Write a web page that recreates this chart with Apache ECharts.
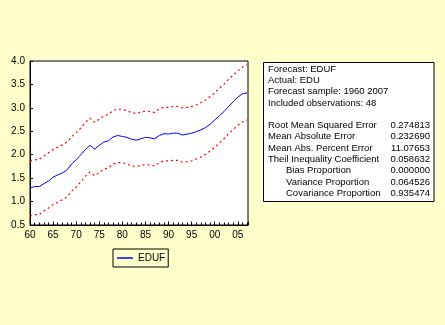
<!DOCTYPE html>
<html><head><meta charset="utf-8">
<script src="https://cdn.jsdelivr.net/npm/echarts@6/dist/echarts.min.js"></script>
<style>html,body{margin:0;padding:0;background:#FFFFCC;}#c{width:445px;height:325px;}</style>
</head><body><div id="c"></div>
<script>
const years = [1960,1961,1962,1963,1964,1965,1966,1967,1968,1969,1970,1971,1972,1973,1974,1975,1976,1977,1978,1979,1980,1981,1982,1983,1984,1985,1986,1987,1988,1989,1990,1991,1992,1993,1994,1995,1996,1997,1998,1999,2000,2001,2002,2003,2004,2005,2006,2007];
const eduf = [1.29,1.32,1.32,1.38,1.44,1.52,1.57,1.61,1.67,1.80,1.89,2.00,2.11,2.20,2.12,2.20,2.27,2.30,2.38,2.41,2.39,2.37,2.33,2.31,2.34,2.37,2.36,2.34,2.41,2.45,2.44,2.46,2.46,2.42,2.44,2.46,2.49,2.53,2.58,2.65,2.74,2.83,2.92,3.03,3.13,3.23,3.30,3.32];
const upper = [1.87,1.89,1.90,1.97,2.04,2.11,2.16,2.21,2.27,2.38,2.47,2.57,2.69,2.78,2.69,2.76,2.83,2.86,2.95,2.97,2.97,2.94,2.90,2.88,2.91,2.93,2.92,2.90,2.98,3.01,3.01,3.03,3.03,3.00,3.01,3.03,3.06,3.11,3.17,3.24,3.32,3.42,3.50,3.61,3.70,3.79,3.87,3.92];
const lower = [0.69,0.72,0.72,0.80,0.86,0.94,0.98,1.04,1.10,1.22,1.31,1.42,1.54,1.63,1.55,1.62,1.69,1.72,1.80,1.83,1.83,1.80,1.76,1.75,1.77,1.79,1.78,1.76,1.83,1.87,1.87,1.88,1.88,1.84,1.85,1.87,1.91,1.95,2.01,2.08,2.16,2.25,2.34,2.45,2.54,2.63,2.70,2.74];
const statLabels = ["Root Mean Squared Error","Mean Absolute Error","Mean Abs. Percent Error","Theil Inequality Coefficient","Bias Proportion","Variance Proportion","Covariance Proportion"];
const statValues = ["0.274813","0.232690","11.07653","0.058632","0.000000","0.064526","0.935474"];
const headerLines = ["Forecast: EDUF","Actual: EDU","Forecast sample: 1960 2007","Included observations: 48"];

const pair = arr => years.map((y,i)=>[y,arr[i]]);
const FONT = 'Liberation Sans';
const TF = '9.5px ' + FONT;
const graphics = [{type:'rect',shape:{x:263.5,y:62.5,width:170.5,height:139},style:{fill:'#fff',stroke:'#000',lineWidth:1}}];
const rowY0 = 69, rowStep = 11.3;
headerLines.forEach((t,i)=>graphics.push({type:'text',x:268,y:rowY0+i*rowStep,style:{text:t,fill:'#000',font:TF,verticalAlign:'middle'}}));
statLabels.forEach((t,i)=>{
  const y = rowY0+(i+5)*rowStep;
  graphics.push({type:'text',x:(i>=4?286:268),y:y,style:{text:t,fill:'#000',font:TF,verticalAlign:'middle'}});
  graphics.push({type:'text',x:430,y:y,style:{text:statValues[i],fill:'#000',font:TF,verticalAlign:'middle',align:'right'}});
});

const chart = echarts.init(document.getElementById('c'));
chart.setOption({
  backgroundColor:'#FFFFCC',
  animation:false,
  grid:{left:30,top:61,width:218,height:164,show:true,backgroundColor:'#fff',borderColor:'#000',borderWidth:1},
  xAxis:{type:'value',min:1960,max:2007.2,interval:5,
    axisLine:{lineStyle:{color:'#000'}},
    axisTick:{inside:true,length:3.5,lineStyle:{color:'#000'}},
    minorTick:{show:true,splitNumber:5,length:2.5,lineStyle:{color:'#000'}},
    splitLine:{show:false},
    axisLabel:{color:'#000',fontFamily:FONT,fontSize:10,margin:5,showMaxLabel:false,
      formatter:v=> (v%5===0)? String(v%100).padStart(2,'0') : ''}},
  yAxis:{type:'value',min:0.5,max:4.0,interval:0.5,
    axisLine:{show:true,lineStyle:{color:'#000'}},
    axisTick:{show:true,inside:true,length:3,lineStyle:{color:'#000'}},
    splitLine:{show:false},
    axisLabel:{color:'#000',fontFamily:FONT,fontSize:10,margin:5,formatter:v=>v.toFixed(1)}},
  legend:{data:['EDUF'],left:113,top:249,orient:'horizontal',
    borderColor:'#000',borderWidth:1,padding:[4,3,4,4],
    icon:'rect',itemWidth:16,itemHeight:1.5,itemGap:4,
    textStyle:{color:'#000',fontFamily:FONT,fontSize:10}},
  graphic:graphics,
  series:[
    {name:'EDUF',type:'line',data:pair(eduf),showSymbol:false,lineStyle:{color:'#0000FF',width:1},itemStyle:{color:'#0000FF'}},
    {name:'upper',type:'line',data:pair(upper),showSymbol:false,lineStyle:{color:'#FF0000',width:1.2,type:[2,3]},itemStyle:{color:'#FF0000'}},
    {name:'lower',type:'line',data:pair(lower),showSymbol:false,lineStyle:{color:'#FF0000',width:1.2,type:[2,3]},itemStyle:{color:'#FF0000'}}
  ]
});
</script></body></html>
